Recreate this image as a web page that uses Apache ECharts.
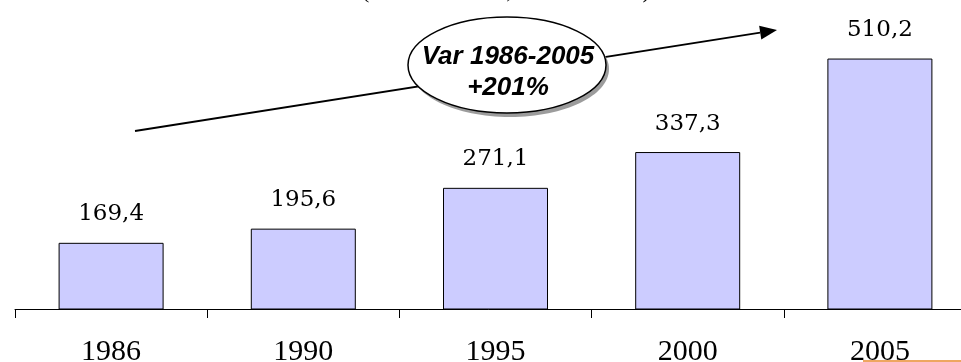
<!DOCTYPE html>
<html>
<head>
<meta charset="utf-8">
<script src="https://cdn.jsdelivr.net/npm/echarts@6/dist/echarts.min.js"></script>
<style>
  html, body { margin: 0; padding: 0; background: #fff; }
  #chart { width: 961px; height: 362px; }
</style>
</head>
<body>
<div id="chart"></div>
<script>
// Years on the category axis and the value for each year
const years = ['1986', '1990', '1995', '2000', '2005'];
const values = [169.4, 195.6, 271.1, 337.3, 510.2];

// Callout text
const calloutLines = ['Var 1986-2005', '+201%'];
const subtitle = '(miliardi di euro, valori correnti)';

const fmt = v => v.toFixed(1).replace('.', ',');

const chart = echarts.init(document.getElementById('chart'), null, { renderer: 'canvas' });

// Arrow from lower left towards the last bar
const ax0 = 135, ay0 = 131, ax1 = 777, ay1 = 30;
const ang = Math.atan2(ay1 - ay0, ax1 - ax0);
const headLen = 17, headHalf = 7;
const bx = ax1 - headLen * Math.cos(ang), by = ay1 - headLen * Math.sin(ang);
const nx = -Math.sin(ang), ny = Math.cos(ang);

chart.setOption({
  animation: false,
  backgroundColor: '#ffffff',
  grid: {
    left: 15, right: -15, top: 10, bottom: 53,
    containLabel: false,
    outerBoundsMode: 'none'
  },
  xAxis: {
    type: 'category',
    data: years,
    boundaryGap: true,
    axisLine: { show: true, lineStyle: { color: '#000', width: 1 } },
    axisTick: { show: true, length: 9, lineStyle: { color: '#000', width: 1 } },
    axisLabel: {
      color: '#000',
      fontFamily: 'Liberation Serif',
      fontSize: 30,
      margin: 28
    }
  },
  yAxis: {
    type: 'value',
    min: 47,
    max: 600,
    show: false,
    splitLine: { show: false }
  },
  series: [{
    type: 'bar',
    data: values,
    barWidth: 105,
    itemStyle: { color: '#CCCCFF', borderColor: '#000', borderWidth: 1 },
    label: {
      show: true,
      position: 'top',
      distance: 17,
      color: '#000',
      fontFamily: 'DejaVu Serif',
      fontSize: 23,
      formatter: p => fmt(p.value)
    }
  }],
  graphic: [
    {
      type: 'text',
      x: 362, y: -8,
      style: {
        text: subtitle, fill: '#000', font: '22px "Liberation Serif"',
        align: 'left', verticalAlign: 'middle'
      },
      z: 10
    },
    {
      type: 'line',
      shape: { x1: ax0, y1: ay0, x2: bx, y2: by },
      style: { stroke: '#000', lineWidth: 1.8 },
      z: 10
    },
    {
      type: 'polygon',
      shape: { points: [[ax1, ay1], [bx + nx * headHalf, by + ny * headHalf], [bx - nx * headHalf, by - ny * headHalf]] },
      style: { fill: '#000' },
      z: 10
    },
    {
      type: 'ellipse',
      shape: { cx: 510, cy: 69, rx: 99, ry: 48 },
      style: { fill: '#9c9c9c' },
      z: 11
    },
    {
      type: 'ellipse',
      shape: { cx: 507, cy: 65, rx: 99, ry: 48 },
      style: { fill: '#fff', stroke: '#000', lineWidth: 1.5 },
      z: 12
    },
    {
      type: 'text',
      x: 508, y: 57,
      style: {
        text: calloutLines[0], fill: '#000',
        font: 'italic bold 26px "Liberation Sans"',
        align: 'center', verticalAlign: 'middle'
      },
      z: 13
    },
    {
      type: 'text',
      x: 508, y: 88,
      style: {
        text: calloutLines[1], fill: '#000',
        font: 'italic bold 26px "Liberation Sans"',
        align: 'center', verticalAlign: 'middle'
      },
      z: 13
    },
    {
      type: 'line',
      shape: { x1: 863, y1: 361, x2: 961, y2: 361 },
      style: { stroke: '#E8892B', lineWidth: 1.5 },
      z: 10
    }
  ]
});
</script>
</body>
</html>
